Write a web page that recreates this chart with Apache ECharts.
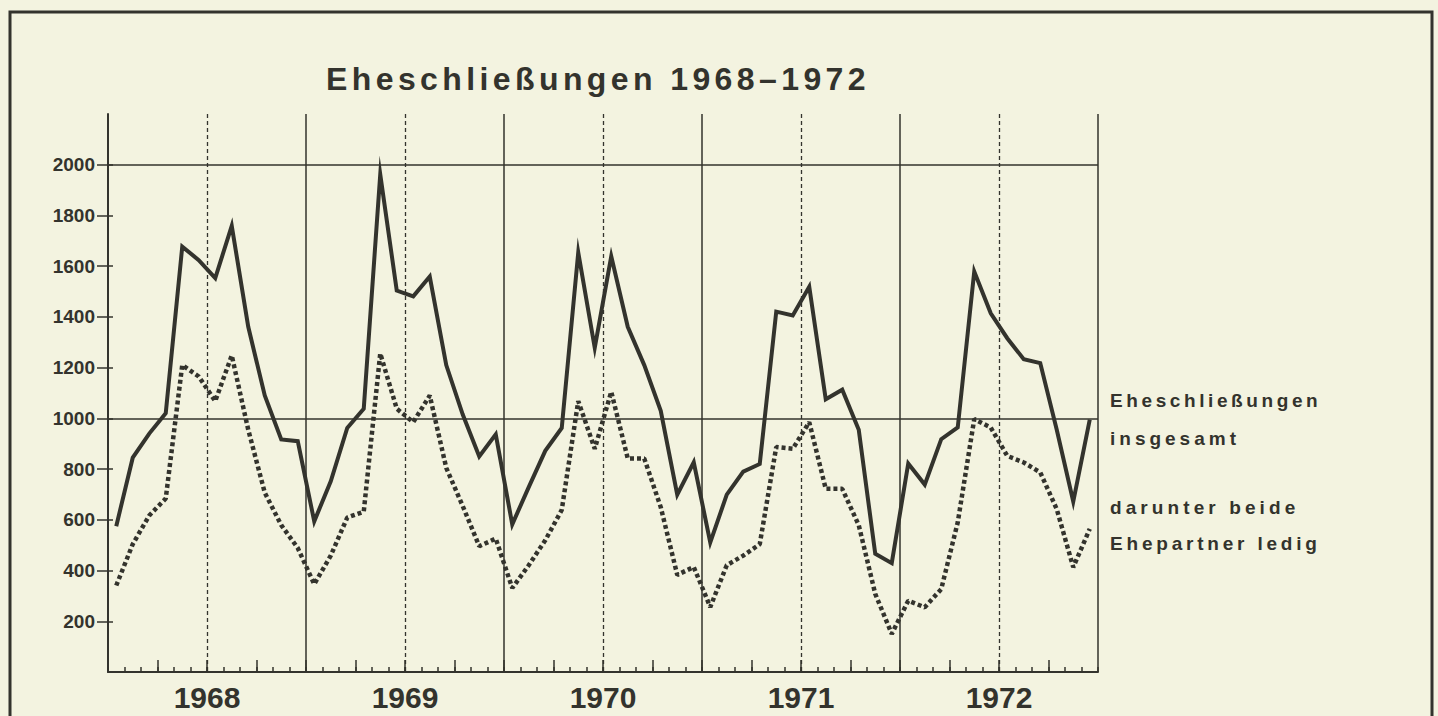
<!DOCTYPE html>
<html>
<head>
<meta charset="utf-8">
<script src="https://cdn.jsdelivr.net/npm/echarts@6/dist/echarts.min.js"></script>
<style>
html,body{margin:0;padding:0;background:#f3f3e0;}
#c{width:1438px;height:716px;}
</style>
</head>
<body>
<div id="c"></div>
<script>
// ---- data ----
const years = ['1968', '1969', '1970', '1971', '1972'];
const monthNames = ['Jan', 'Feb', 'Mär', 'Apr', 'Mai', 'Jun', 'Jul', 'Aug', 'Sep', 'Okt', 'Nov', 'Dez'];

// Eheschließungen insgesamt (monthly)
const gesamt1968 = [575, 845, 940, 1020, 1677, 1624, 1553, 1759, 1361, 1090, 917, 910];
const gesamt1969 = [594, 752, 962, 1038, 1962, 1504, 1481, 1559, 1210, 1015, 850, 937];
const gesamt1970 = [582, 729, 872, 962, 1654, 1278, 1639, 1361, 1210, 1030, 699, 827];
const gesamt1971 = [511, 699, 790, 820, 1421, 1406, 1519, 1075, 1113, 955, 466, 429];
const gesamt1972 = [822, 739, 918, 964, 1579, 1414, 1316, 1233, 1218, 955, 672, 995];

// darunter beide Ehepartner ledig (monthly)
const ledig1968 = [341, 504, 617, 684, 1210, 1165, 1068, 1248, 955, 707, 579, 489];
const ledig1969 = [346, 459, 609, 632, 1256, 1038, 985, 1090, 805, 654, 496, 526];
const ledig1970 = [331, 421, 519, 639, 1068, 880, 1105, 842, 842, 650, 383, 414];
const ledig1971 = [256, 421, 459, 504, 887, 880, 985, 722, 722, 579, 308, 150];
const ledig1972 = [281, 255, 327, 590, 997, 964, 852, 826, 787, 642, 413, 564];

const yTickValues = [200, 400, 600, 800, 1000, 1200, 1400, 1600, 1800, 2000];
const yStrongLines = [1000, 2000];
const titleText = 'Eheschließungen 1968–1972';
const legendLines = ['Eheschließungen', 'insgesamt', 'darunter beide', 'Ehepartner ledig'];

// ---- derived ----
const categories = [];
years.forEach(y => monthNames.forEach(m => categories.push(m + ' ' + y)));
const gesamt = [].concat(gesamt1968, gesamt1969, gesamt1970, gesamt1971, gesamt1972);
const ledig = [].concat(ledig1968, ledig1969, ledig1970, ledig1971, ledig1972);
const nMonths = categories.length;
const midYears = years.map((y, i) => i * 12 + 6);
const quarters = [];
for (let q = 3; q < nMonths; q += 3) quarters.push(q);

const ink = '#33332d';
const font = 'Liberation Sans';
const legendFont = 'bold 19px "Liberation Sans"';

const chart = echarts.init(document.getElementById('c'), null, {renderer: 'svg'});
chart.setOption({
  backgroundColor: '#f3f3e0',
  animation: false,
  title: {
    text: titleText,
    left: 326, top: 63, padding: 0,
    textStyle: {fontFamily: font, fontWeight: 'bold', fontSize: 32, color: ink}
  },
  grid: {left: 108, right: 340, top: 114, bottom: 44, containLabel: false},
  xAxis: [
    {
      type: 'category', data: categories, boundaryGap: true, position: 'bottom',
      axisLine: {show: true, lineStyle: {color: ink, width: 2}},
      axisTick: {show: true, inside: true, length: 5, interval: 0, lineStyle: {color: ink, width: 1.5}},
      axisLabel: {show: false}, splitLine: {show: false}
    },
    {
      type: 'value', min: 0, max: nMonths, position: 'bottom',
      axisLine: {show: false},
      axisTick: {show: true, inside: true, length: 12, customValues: quarters, lineStyle: {color: ink, width: 1.5}},
      axisLabel: {
        show: true, customValues: midYears, margin: 10,
        formatter: v => years[Math.round((v - 6) / 12)],
        fontFamily: font, fontWeight: 'bold', fontSize: 30, color: ink
      },
      splitLine: {show: false}
    },
    {
      type: 'value', min: 0, max: nMonths, interval: 12, position: 'bottom',
      axisLine: {show: false}, axisTick: {show: false}, axisLabel: {show: false},
      splitLine: {show: true, lineStyle: {color: ink, width: 1.5, type: 'solid'}}
    },
    {
      type: 'value', min: 0, max: nMonths, position: 'bottom',
      axisLine: {show: false},
      axisTick: {show: true, length: 0, customValues: midYears, lineStyle: {width: 0, opacity: 0}},
      axisLabel: {show: false},
      splitLine: {show: true, lineStyle: {color: ink, width: 1.3, type: [4, 3]}}
    }
  ],
  yAxis: [
    {
      type: 'value', min: 0, max: 2200, position: 'left',
      axisLine: {show: true, lineStyle: {color: ink, width: 2}},
      axisTick: {show: true, inside: false, length: 11, customValues: yTickValues, lineStyle: {color: ink, width: 1.5}},
      axisLabel: {
        show: true, customValues: yTickValues, margin: 13, formatter: v => String(v),
        fontFamily: font, fontWeight: 'bold', fontSize: 19, color: ink
      },
      splitLine: {show: false}
    },
    {
      type: 'value', min: 0, max: 2200, position: 'left',
      axisLine: {show: false},
      axisTick: {show: true, inside: true, length: 5, customValues: yTickValues, lineStyle: {color: ink, width: 1.5}},
      axisLabel: {show: false}, splitLine: {show: false}
    },
    {
      type: 'value', min: 0, max: 2200, position: 'left',
      axisLine: {show: false},
      axisTick: {show: true, length: 0, customValues: yStrongLines, lineStyle: {width: 0, opacity: 0}},
      axisLabel: {show: false},
      splitLine: {show: true, lineStyle: {color: ink, width: 1.5, type: 'solid'}}
    }
  ],
  series: [
    {
      name: 'Eheschließungen insgesamt', type: 'line', data: gesamt,
      xAxisIndex: 0, yAxisIndex: 0, symbol: 'none', z: 5,
      lineStyle: {color: ink, width: 4, join: 'miter', miterLimit: 20}
    },
    {
      name: 'darunter beide Ehepartner ledig', type: 'line', data: ledig,
      xAxisIndex: 0, yAxisIndex: 0, symbol: 'none', z: 5,
      lineStyle: {color: ink, width: 4.5, type: [4, 3], cap: 'butt'}
    }
  ],
  graphic: [
    {type: 'rect', silent: true, z: -1, shape: {x: 10, y: 12, width: 1422, height: 730},
     style: {fill: 'none', stroke: ink, lineWidth: 3}},
    {type: 'text', x: 1110, y: 400, style: {text: legendLines[0], fill: ink, font: legendFont, verticalAlign: 'middle'}},
    {type: 'text', x: 1110, y: 438, style: {text: legendLines[1], fill: ink, font: legendFont, verticalAlign: 'middle'}},
    {type: 'text', x: 1110, y: 507, style: {text: legendLines[2], fill: ink, font: legendFont, verticalAlign: 'middle'}},
    {type: 'text', x: 1110, y: 543, style: {text: legendLines[3], fill: ink, font: legendFont, verticalAlign: 'middle'}}
  ]
});

// tracking (letter spacing) like the printed original
const spacing = {};
spacing[titleText] = 4.4;
spacing[legendLines[0]] = 3.6;
spacing[legendLines[1]] = 4.0;
spacing[legendLines[2]] = 4.1;
spacing[legendLines[3]] = 3.8;
function applySpacing() {
  document.querySelectorAll('#c svg text').forEach(t => {
    const s = spacing[t.textContent];
    if (s) t.style.letterSpacing = s + 'px';
  });
}
chart.on('finished', applySpacing);
setTimeout(applySpacing, 50);
setTimeout(applySpacing, 300);
</script>
</body>
</html>
